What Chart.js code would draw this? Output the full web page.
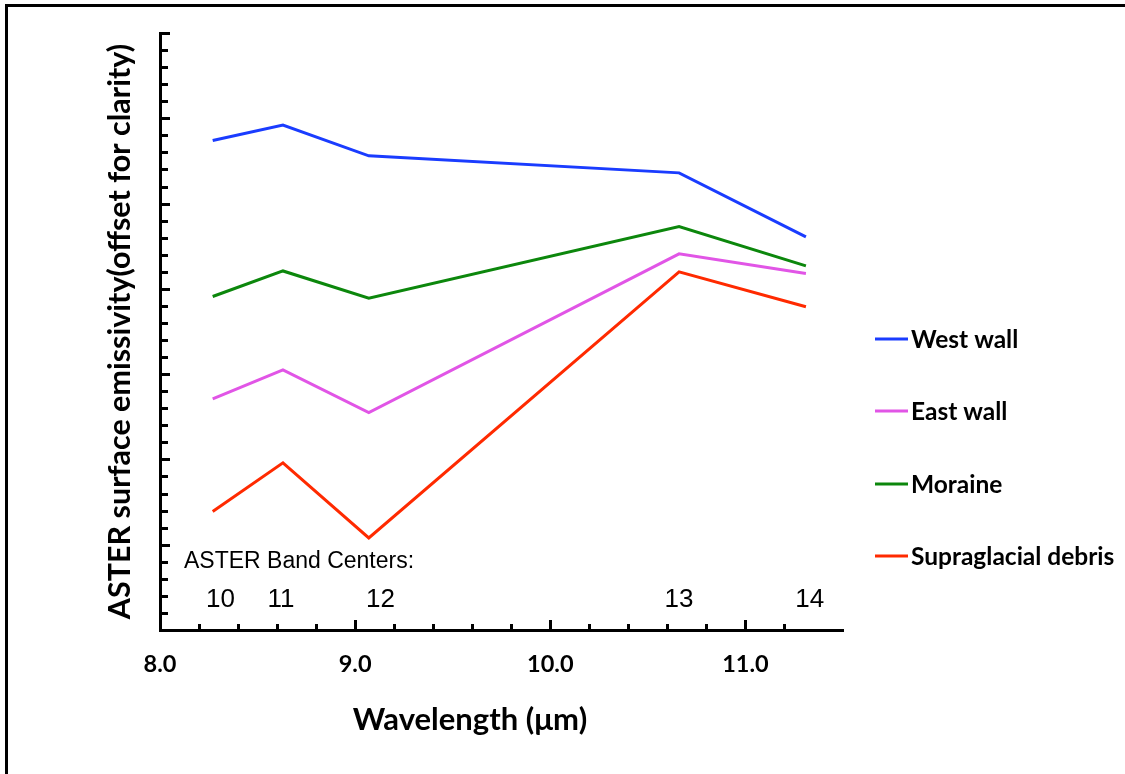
<!DOCTYPE html>
<html>
<head>
<meta charset="utf-8">
<title>ASTER emissivity spectra</title>
<script src="https://cdn.jsdelivr.net/npm/chart.js@4.4.0/dist/chart.umd.min.js"></script>
<style>
  html, body { margin: 0; padding: 0; background: #fff; overflow: hidden; }
  #wrap { position: relative; width: 1125px; height: 774px; }
  #frame { position: absolute; left: 5px; top: 4px; width: 1300px; height: 900px; border: 3px solid #000; box-sizing: border-box; }
  #chart { position: absolute; left: 0; top: 0; }
</style>
</head>
<body>
<div id="wrap">
  <div id="frame"></div>
  <canvas id="chart" width="1125" height="774"></canvas>
</div>
<script>
// wavelength of each ASTER TIR band used (µm)
var wavelengths = [8.27, 8.63, 9.07, 10.66, 11.31];

// emissivity curves, offset vertically
var westWall = [5.74, 5.92, 5.56, 5.36, 4.61];
var eastWall = [2.71, 3.05, 2.55, 4.41, 4.18];
var moraine  = [3.91, 4.21, 3.89, 4.73, 4.27];
var debris   = [1.39, 1.96, 1.08, 4.20, 3.79];

var seriesNames  = ['West wall', 'East wall', 'Moraine', 'Supraglacial debris'];
var seriesColors = ['#1a3cff', '#e155e6', '#0c870c', '#ff2a00'];

// band numbers written above the x axis
var bandNumbers = ['10', '11', '12', '13', '14'];
var bandLabelAt = [8.31, 8.62, 9.13, 10.66, 11.33];

function toPoints(vals) {
  return vals.map(function (v, i) { return { x: wavelengths[i], y: v }; });
}

var allSeries = [westWall, eastWall, moraine, debris];
var datasets = allSeries.map(function (vals, i) {
  return {
    label: seriesNames[i],
    data: toPoints(vals),
    borderColor: seriesColors[i],
    backgroundColor: seriesColors[i],
    borderWidth: 3,
    pointRadius: 0,
    tension: 0
  };
});

// tick marks pointing into the plot, longer on whole units
var inwardTicks = {
  id: 'inwardTicks',
  afterDraw: function (chart) {
    var ctx = chart.ctx, xs = chart.scales.x, ys = chart.scales.y;
    var area = chart.chartArea;
    ctx.save();
    ctx.strokeStyle = '#000';
    ctx.lineWidth = 3;
    ctx.lineCap = 'butt';
    xs.ticks.forEach(function (t) {
      var k = t.value * 5;
      if (Math.abs(k - Math.round(k)) > 1e-6) return;
      var major = Math.abs(t.value - Math.round(t.value)) < 1e-6;
      var px = Math.round(xs.getPixelForValue(t.value)) + 0.5;
      ctx.beginPath();
      ctx.moveTo(px, area.bottom);
      ctx.lineTo(px, area.bottom - (major ? 10 : 6));
      ctx.stroke();
    });
    ys.ticks.forEach(function (t) {
      var major = Math.abs(t.value - Math.round(t.value)) < 1e-6;
      var py = Math.round(ys.getPixelForValue(t.value)) + 0.5;
      ctx.beginPath();
      ctx.moveTo(area.left, py);
      ctx.lineTo(area.left + (major ? 10 : 8), py);
      ctx.stroke();
    });
    ctx.restore();
  }
};

// band centre labels, x-axis title and the side legend
var annotations = {
  id: 'annotations',
  afterDraw: function (chart) {
    var ctx = chart.ctx, xs = chart.scales.x;
    ctx.save();
    ctx.fillStyle = '#000';
    ctx.textBaseline = 'alphabetic';

    ctx.font = '23px "Liberation Sans", Arial, sans-serif';
    ctx.textAlign = 'left';
    ctx.fillText('ASTER Band Centers:', 184, 568);

    ctx.font = '26px "Liberation Sans", Arial, sans-serif';
    ctx.textAlign = 'center';
    bandNumbers.forEach(function (n, i) {
      ctx.fillText(n, xs.getPixelForValue(bandLabelAt[i]), 607);
    });

    ctx.font = 'bold 31px Lato, sans-serif';
    ctx.textBaseline = 'middle';
    ctx.fillText('Wavelength (\u03bcm)', 470, 720);

    // legend
    var legendY = [339, 411, 484, 556];
    chart.data.datasets.forEach(function (ds, i) {
      ctx.strokeStyle = ds.borderColor;
      ctx.lineWidth = 3;
      ctx.beginPath();
      ctx.moveTo(875, legendY[i]);
      ctx.lineTo(908, legendY[i]);
      ctx.stroke();
      ctx.font = 'bold 24.5px Lato, sans-serif';
      ctx.textAlign = 'left';
      ctx.fillText(ds.label, 911, legendY[i] + 1);
    });
    ctx.restore();
  }
};

var config = {
  type: 'line',
  data: { datasets: datasets },
  options: {
    responsive: false,
    animation: false,
    layout: { padding: { left: 101.7, top: 33, right: 282, bottom: 75.8 } },
    plugins: { legend: { display: false }, tooltip: { enabled: false } },
    scales: {
      x: {
        type: 'linear',
        min: 8,
        max: 11.5,
        grid: { display: true, drawOnChartArea: false, drawTicks: false },
        border: { display: true, color: '#000', width: 3 },
        ticks: {
          stepSize: 0.2,
          autoSkip: false,
          maxRotation: 0,
          padding: 20,
          color: '#000',
          font: { family: 'Lato', weight: 'bold', size: 23.5 },
          callback: function (v) {
            return Math.abs(v - Math.round(v)) < 1e-6 ? v.toFixed(1) : '';
          }
        }
      },
      y: {
        min: 0,
        max: 7,
        grid: { display: true, drawOnChartArea: false, drawTicks: false },
        border: { display: true, color: '#000', width: 3 },
        ticks: { stepSize: 0.2, display: false },
        title: {
          display: true,
          text: 'ASTER surface emissivity(offset for clarity)',
          color: '#000',
          font: { family: 'Lato', weight: 'bold', size: 30.5 },
          padding: { top: 0, bottom: 21.7 }
        }
      }
    }
  },
  plugins: [inwardTicks, annotations]
};

var myChart = new Chart(document.getElementById('chart'), config);
</script>
</body>
</html>
